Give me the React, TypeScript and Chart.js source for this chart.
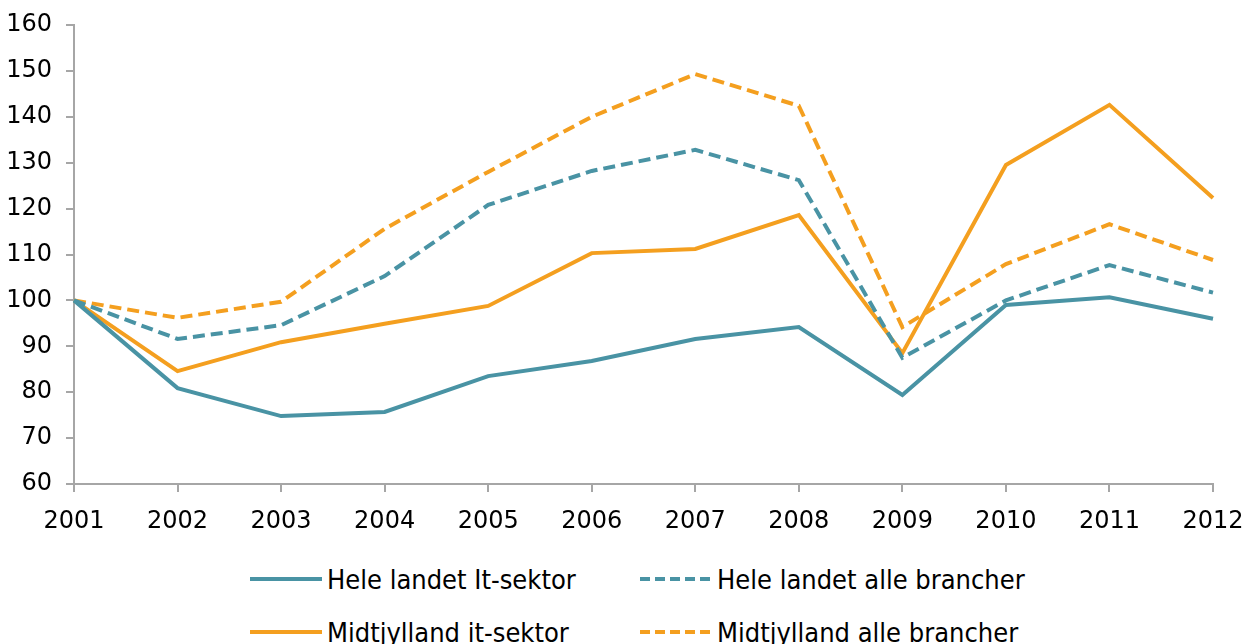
import React, { useEffect, useRef } from "react";
import { Chart, registerables } from "chart.js";

Chart.register(...registerables);

const years = ["2001", "2002", "2003", "2004", "2005", "2006", "2007", "2008", "2009", "2010", "2011", "2012"];
const heleLandetIt = [100, 80.9, 74.8, 75.7, 83.5, 86.8, 91.6, 94.2, 79.4, 99, 100.7, 96];
const heleLandetAlle = [100, 91.6, 94.6, 105.3, 120.8, 128.2, 132.8, 126.2, 87.5, 100, 107.7, 101.7];
const midtjyllandIt = [100, 84.6, 90.9, 94.9, 98.8, 110.3, 111.2, 118.6, 88.5, 129.5, 142.6, 122.3];
const midtjyllandAlle = [100, 96.2, 99.7, 115.6, 128, 140, 149.3, 142.4, 94.2, 107.9, 116.6, 108.8];

const TEAL = "#4993A4";
const ORANGE = "#F49F1F";
const AXIS = "#A6A6A6";
const FONT = "'DejaVu Sans'";
const LEGEND_FONT = "'DejaVu Sans Condensed', 'DejaVu Sans'";

const legendItems = [
  { label: "Hele landet It-sektor", color: TEAL, dashed: false, x: 250, y: 579 },
  { label: "Hele landet alle brancher", color: TEAL, dashed: true, x: 640, y: 579 },
  { label: "Midtjylland it-sektor", color: ORANGE, dashed: false, x: 250, y: 632 },
  { label: "Midtjylland alle brancher", color: ORANGE, dashed: true, x: 640, y: 632 },
];

export default function App() {
  const ref = useRef<HTMLCanvasElement>(null);

  useEffect(() => {
    if (!ref.current) return;
    const mk = (label: string, data: number[], color: string, dashed: boolean) => ({
      label,
      data,
      borderColor: color,
      backgroundColor: color,
      borderWidth: 4,
      borderDash: dashed ? [12, 6] : [],
      pointRadius: 0,
      tension: 0,
      fill: false,
    });
    const chart = new Chart(ref.current, {
      type: "line",
      data: {
        labels: years,
        datasets: [
          mk("Hele landet It-sektor", heleLandetIt, TEAL, false),
          mk("Hele landet alle brancher", heleLandetAlle, TEAL, true),
          mk("Midtjylland it-sektor", midtjyllandIt, ORANGE, false),
          mk("Midtjylland alle brancher", midtjyllandAlle, ORANGE, true),
        ],
      },
      options: {
        animation: false,
        responsive: false,
        maintainAspectRatio: false,
        layout: { padding: { left: 0, right: 29, top: 25, bottom: 0 } },
        plugins: { legend: { display: false }, tooltip: { enabled: false } },
        scales: {
          x: {
            offset: false,
            grid: { display: true, drawOnChartArea: false, drawTicks: true, tickLength: 8, color: AXIS, lineWidth: 2 },
            border: { display: true, color: AXIS, width: 2 },
            ticks: { color: "#000", font: { family: FONT, size: 24 }, padding: 15, maxRotation: 0, autoSkip: false },
            afterFit: (s: any) => { s.height = 46; s.paddingRight = 0; s.paddingLeft = 0; },
          },
          y: {
            min: 60,
            max: 160,
            grid: { display: true, drawOnChartArea: false, drawTicks: true, tickLength: 8, color: AXIS, lineWidth: 2 },
            border: { display: true, color: AXIS, width: 2 },
            ticks: { stepSize: 10, color: "#000", font: { family: FONT, size: 24 }, padding: 14 },
            afterFit: (s: any) => { s.width = 74; s.paddingTop = 0; },
          },
        },
      },
    });
    return () => chart.destroy();
  }, []);

  return (
    <div style={{ position: "fixed", left: 0, top: 0, width: 1242, height: 644, background: "#fff", overflow: "hidden" }}>
      <canvas ref={ref} width={1242} height={530} style={{ position: "absolute", left: 0, top: 0, width: 1242, height: 530 }} />
      {legendItems.map((it) => (
        <div key={it.label} style={{ position: "absolute", left: it.x, top: it.y - 18, height: 36, display: "flex", alignItems: "center", fontFamily: LEGEND_FONT, fontSize: 27, color: "#000", whiteSpace: "nowrap" }}>
          <svg width={74} height={8} style={{ marginRight: 3 }}>
            <line x1={0} y1={4} x2={72} y2={4} stroke={it.color} strokeWidth={4} strokeDasharray={it.dashed ? "10 5" : undefined} />
          </svg>
          <span>{it.label}</span>
        </div>
      ))}
    </div>
  );
}
